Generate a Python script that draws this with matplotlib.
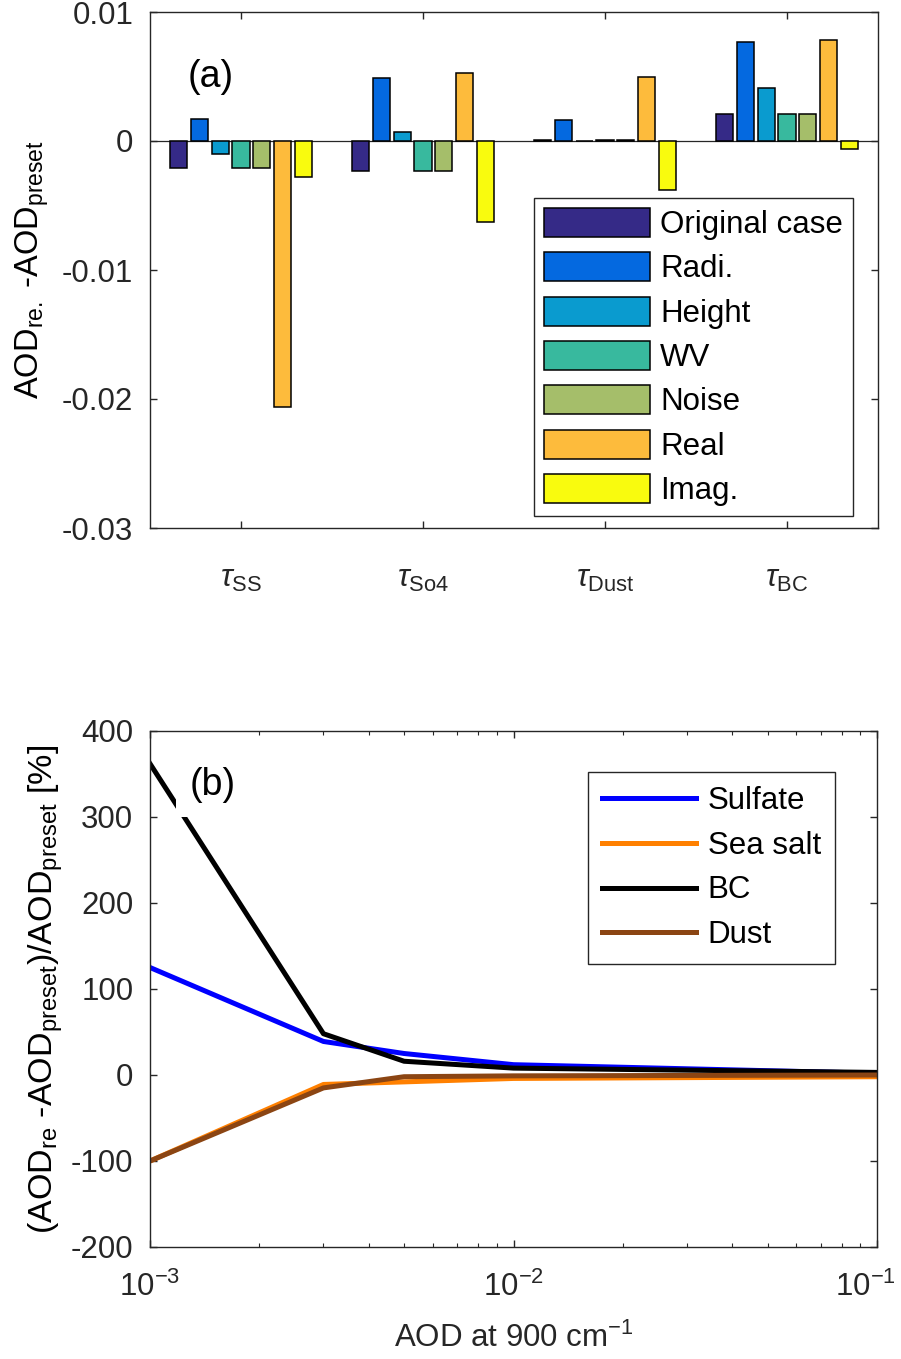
import numpy as np
import matplotlib
matplotlib.use("Agg")
import matplotlib.pyplot as plt
from matplotlib.transforms import ScaledTranslation

plt.rcParams['font.family'] = ['Liberation Sans', 'DejaVu Sans']
plt.rcParams['mathtext.fontset'] = 'custom'
plt.rcParams['mathtext.rm'] = 'Liberation Sans'
plt.rcParams['mathtext.it'] = 'Liberation Sans:italic'
plt.rcParams['mathtext.sf'] = 'Liberation Sans'
plt.rcParams['axes.unicode_minus'] = False

# (a) dados das barras
grupos = [r'$\tau_{\mathrm{SS}}$', r'$\tau_{\mathrm{So4}}$',
          r'$\tau_{\mathrm{Dust}}$', r'$\tau_{\mathrm{BC}}$']
casos = ["Original case", "Radi.", "Height", "WV", "Noise", "Real", "Imag."]
cores = ["#352a87", "#0469e0", "#0a9bcf", "#38b99e", "#a5be6a", "#fdbb3c", "#f9fb0e"]
original = [-0.0021, -0.0023, 0.0001, 0.0021]
radi = [0.0017, 0.0049, 0.0016, 0.0077]
height = [-0.0010, 0.0007, 0.00002, 0.0041]
wv = [-0.0021, -0.0023, 0.0001, 0.0021]
noise = [-0.0021, -0.0023, 0.0001, 0.0021]
real = [-0.0206, 0.0053, 0.0050, 0.0078]
imag = [-0.0028, -0.0063, -0.0038, -0.0006]
valores = [original, radi, height, wv, noise, real, imag]
yticks_a = [-0.03, -0.02, -0.01, 0, 0.01]
ylabels_a = ["-0.03", "-0.02", "-0.01", "0", "0.01"]

# (b) dados das linhas
aod = [0.001, 0.003, 0.005, 0.01, 0.1]
sulfate = [125, 39, 25, 12, 2]
sea_salt = [-100, -11, -8, -4, -2]
bc = [362, 48, 16, 8, 3]
dust = [-100, -15, -2, -1, 0]
xticks_b = [1e-3, 1e-2, 1e-1]
xlabels_b = [r'$10^{-3}$', r'$10^{-2}$', r'$10^{-1}$']

cinza = "#262626"
fs = 22.5

fig = plt.figure(figsize=(9.01, 13.59), dpi=100)
W, H = 901, 1359

# ---------- (a) ----------
ax1 = fig.add_axes([150 / W, 1 - 528 / H, 728 / W, 516 / H])
x = np.arange(1, len(grupos) + 1)
passo = 0.114
larg = 0.096
for i, (nome, v) in enumerate(zip(casos, valores)):
    ax1.bar(x + (i - 3) * passo, v, width=larg, color=cores[i],
            edgecolor="black", linewidth=1.1, label=nome, zorder=3)
ax1.axhline(0, color=cinza, lw=0.9, zorder=2)
ax1.set_xlim(0.5, 4.5)
ax1.set_ylim(-0.03, 0.01)
ax1.set_xticks(x)
ax1.set_xticklabels(grupos, fontsize=fs)
ax1.set_yticks(yticks_a)
ax1.set_yticklabels(ylabels_a, fontsize=fs)
ax1.set_ylabel(r'AOD$_{\mathrm{re.}}$ -AOD$_{\mathrm{preset}}$', fontsize=fs + 1, labelpad=8)
ax1.tick_params(direction="in", length=5, width=1, colors=cinza, top=True, right=True)
ax1.tick_params(axis="x", pad=26, colors=cinza)
ax1.tick_params(axis="y", pad=12)
for s in ax1.spines.values():
    s.set_color(cinza)
    s.set_linewidth(1)
ax1.text(0.052, 0.874, "(a)", transform=ax1.transAxes, fontsize=27,
         va="center", ha="left")
leg1 = ax1.legend(loc="lower right", bbox_to_anchor=(0.9657, 0.023), borderaxespad=0,
                  fontsize=fs, handlelength=3.4, handleheight=1.05, labelspacing=0.39,
                  handletextpad=0.32, borderpad=0.32, fancybox=False, framealpha=1)
leg1.get_frame().set_edgecolor(cinza)
leg1.get_frame().set_linewidth(1)

# ---------- (b) ----------
ax2 = fig.add_axes([150 / W, 1 - 1247 / H, 727 / W, 516 / H])
lw = 3.6
ax2.plot(aod, sulfate, color="#0000ff", lw=lw, label="Sulfate")
ax2.plot(aod, sea_salt, color="#ff8000", lw=lw, label="Sea salt")
ax2.plot(aod, bc, color="black", lw=lw, label="BC")
ax2.plot(aod, dust, color="#8b4513", lw=lw, label="Dust")
ax2.set_xscale("log")
ax2.set_xlim(1e-3, 1e-1)
ax2.set_ylim(-200, 400)
ax2.set_yticks(range(-200, 401, 100))
rotulos = ax2.set_xticks(xticks_b, labels=xlabels_b)
ax2.tick_params(labelsize=fs)
ax2.tick_params(which="both", direction="in", colors=cinza, top=True, right=True)
ax2.tick_params(which="major", length=5, width=1)
ax2.tick_params(which="minor", length=3, width=0.8)
ax2.tick_params(axis="x", pad=18)
ax2.tick_params(axis="y", pad=12)
# empurra o ultimo rotulo um pouco para dentro
ultimo = ax2.xaxis.get_major_ticks()[-1].label1
ultimo.set_transform(ultimo.get_transform() + ScaledTranslation(-0.12, 0, fig.dpi_scale_trans))
for s in ax2.spines.values():
    s.set_color(cinza)
    s.set_linewidth(1)
ax2.set_xlabel(r'AOD at 900 cm$^{-1}$', fontsize=fs, color=cinza, labelpad=14)
ax2.set_ylabel(r'(AOD$_{\mathrm{re}}$ -AOD$_{\mathrm{preset}}$)/AOD$_{\mathrm{preset}}$ [%]',
               fontsize=fs + 2, labelpad=4)
ax2.text(0.055, 0.895, "(b)", transform=ax2.transAxes, fontsize=27, va="center",
         ha="left", bbox=dict(boxstyle="square,pad=0.38", facecolor="white", edgecolor="none"))
leg2 = ax2.legend(loc="upper right", bbox_to_anchor=(0.942, 0.9205), borderaxespad=0,
                  fontsize=fs, handlelength=3.0, labelspacing=0.47, handletextpad=0.38,
                  borderpad=0.45, fancybox=False, framealpha=1)
leg2.get_frame().set_edgecolor(cinza)
leg2.get_frame().set_linewidth(1)

fig.savefig("out.png", dpi=100)
